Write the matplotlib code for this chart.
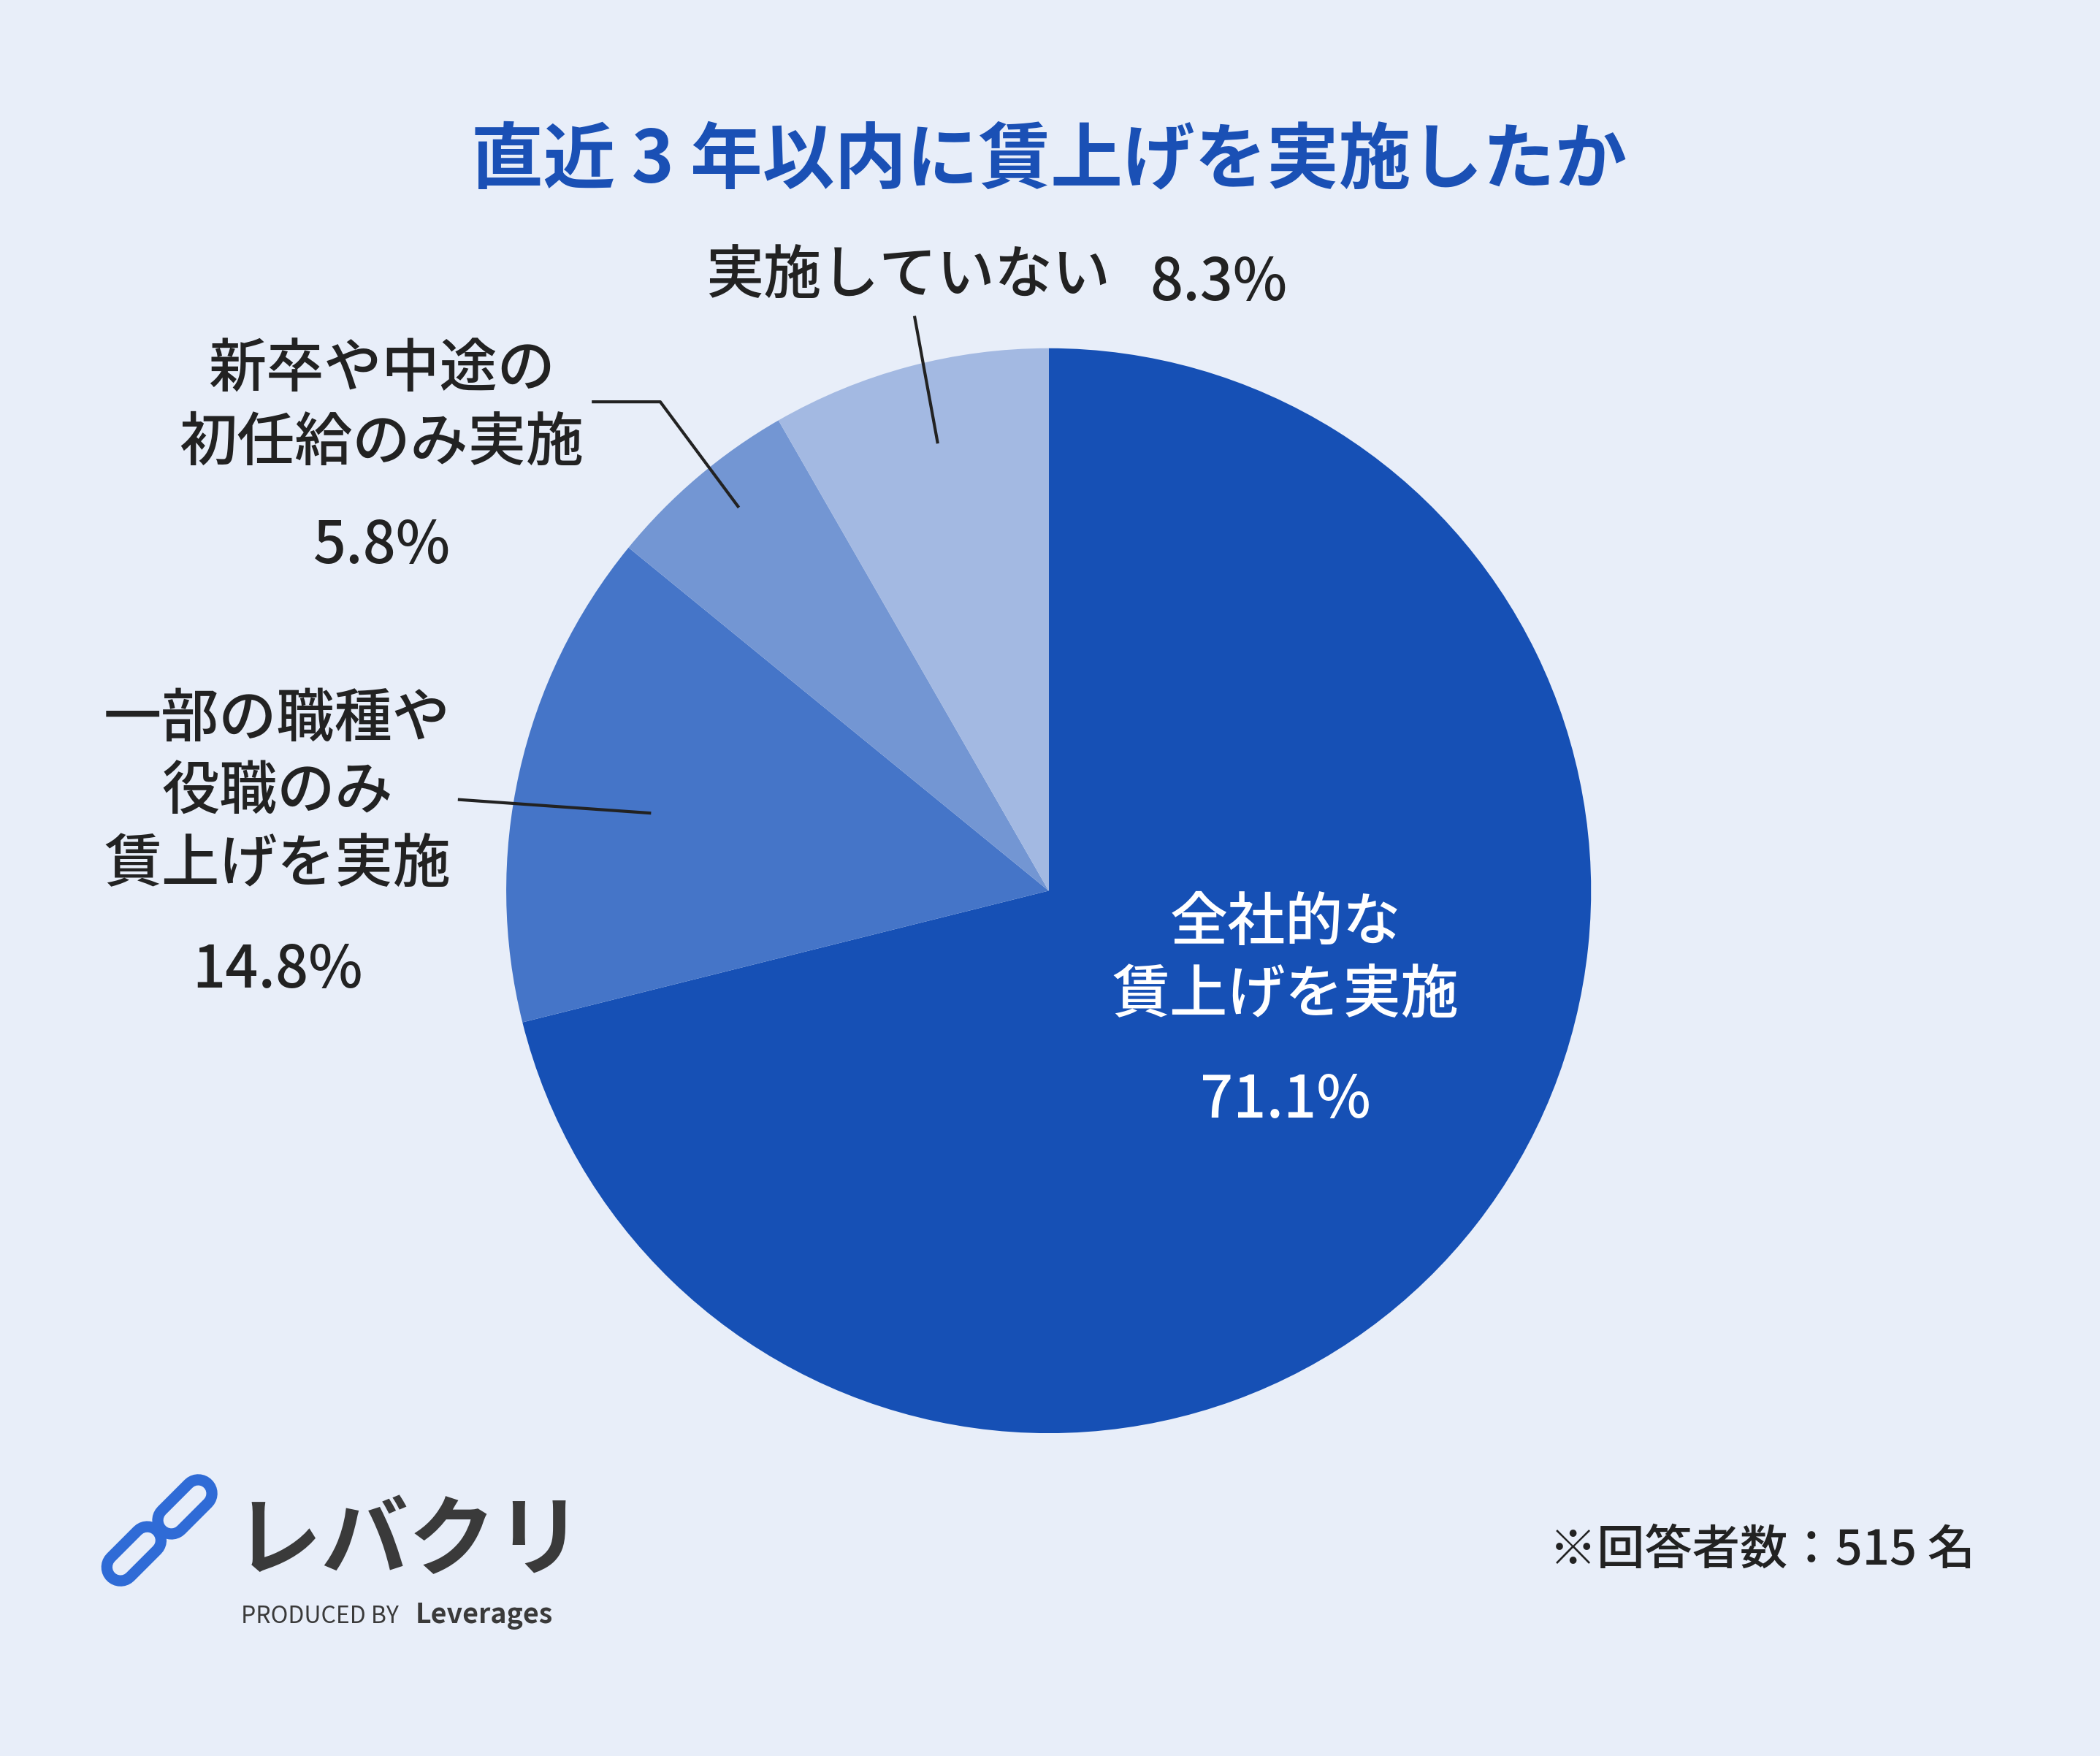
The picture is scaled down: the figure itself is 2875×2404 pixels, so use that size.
import matplotlib.pyplot as plt

plt.rcParams['font.family'] = ['Noto Sans CJK JP', 'DejaVu Sans']

labels = ['全社的な\n賃上げを実施', '一部の職種や\n役職のみ\n賃上げを実施', '新卒や中途の\n初任給のみ実施', '実施していない']
values = [71.1, 14.8, 5.8, 8.3]
colors = ['#1650B5', '#4575C8', '#7396D3', '#A3B9E2']
bg = '#E8EEF9'

W, H = 1568, 1311
fig = plt.figure(figsize=(28.75, 24.04), dpi=100, facecolor=bg)

# pie axes: center (783,665), radius 405 in reference units
cx, cy, r = 783, 665, 405
ax = fig.add_axes([(cx - r) / W, 1 - (cy + r) / H, 2 * r / W, 2 * r / H])
ax.pie(values, colors=colors, startangle=90, counterclock=False,
       wedgeprops=dict(linewidth=0))
ax.set_xlim(-1, 1)
ax.set_ylim(-1, 1)
ax.set_aspect('auto')
ax.axis('off')

# overlay in reference coordinates
ov = fig.add_axes([0, 0, 1, 1], facecolor='none')
ov.set_xlim(0, W)
ov.set_ylim(H, 0)
ov.axis('off')

ov.text(783, 120, '直近 3 年以内に賃上げを実施したか', ha='center', va='center',
        fontsize=71, fontweight='bold', color='#1A50B5')

dark = '#222222'
lab = 57
kw = dict(ha='center', va='center', fontsize=lab, fontweight='medium', linespacing=1.3)
ov.text(960, 717, labels[0], color='white', **kw)
ov.text(960, 822, f'{values[0]}%', color='white', **kw)

ov.text(207, 592, labels[1], color=dark, **kw)
ov.text(207, 725, f'{values[1]}%', color=dark, **kw)

ov.text(285, 304, labels[2], color=dark, **kw)
ov.text(285, 408, f'{values[2]}%', color=dark, **kw)

ov.text(678, 207, labels[3], color=dark, **kw)
ov.text(910, 212, f'{values[3]}%', color=dark, **kw)

lw = 3
ov.plot([683, 700], [237, 330], color=dark, lw=lw)
ov.plot([443, 493, 551], [300, 300, 378], color=dark, lw=lw)
ov.plot([343, 485], [597, 607], color=dark, lw=lw)

ov.text(1475, 1158, '※回答者数：515 名', ha='right', va='center', fontsize=47,
        fontweight='medium', color=dark)

# logo
ov.plot([90, 110], [1170, 1150], color='#2F6BD6', lw=38, solid_capstyle='round')
ov.plot([128, 148], [1135, 1115], color='#2F6BD6', lw=38, solid_capstyle='round')
ov.plot([90, 110], [1170, 1150], color=bg, lw=16, solid_capstyle='round')
ov.plot([128, 148], [1135, 1115], color=bg, lw=16, solid_capstyle='round')
ov.text(175, 1152, 'レバクリ', ha='left', va='center', fontsize=86, fontweight='bold', color='#3A3A3A')
ov.text(180, 1207, 'PRODUCED BY', ha='left', va='center', fontsize=23, color='#3A3A3A')
ov.text(310, 1206, 'Leverages', ha='left', va='center', fontsize=27, fontweight='bold', color='#3A3A3A')

fig.savefig('out.png', dpi=100, facecolor=bg)
